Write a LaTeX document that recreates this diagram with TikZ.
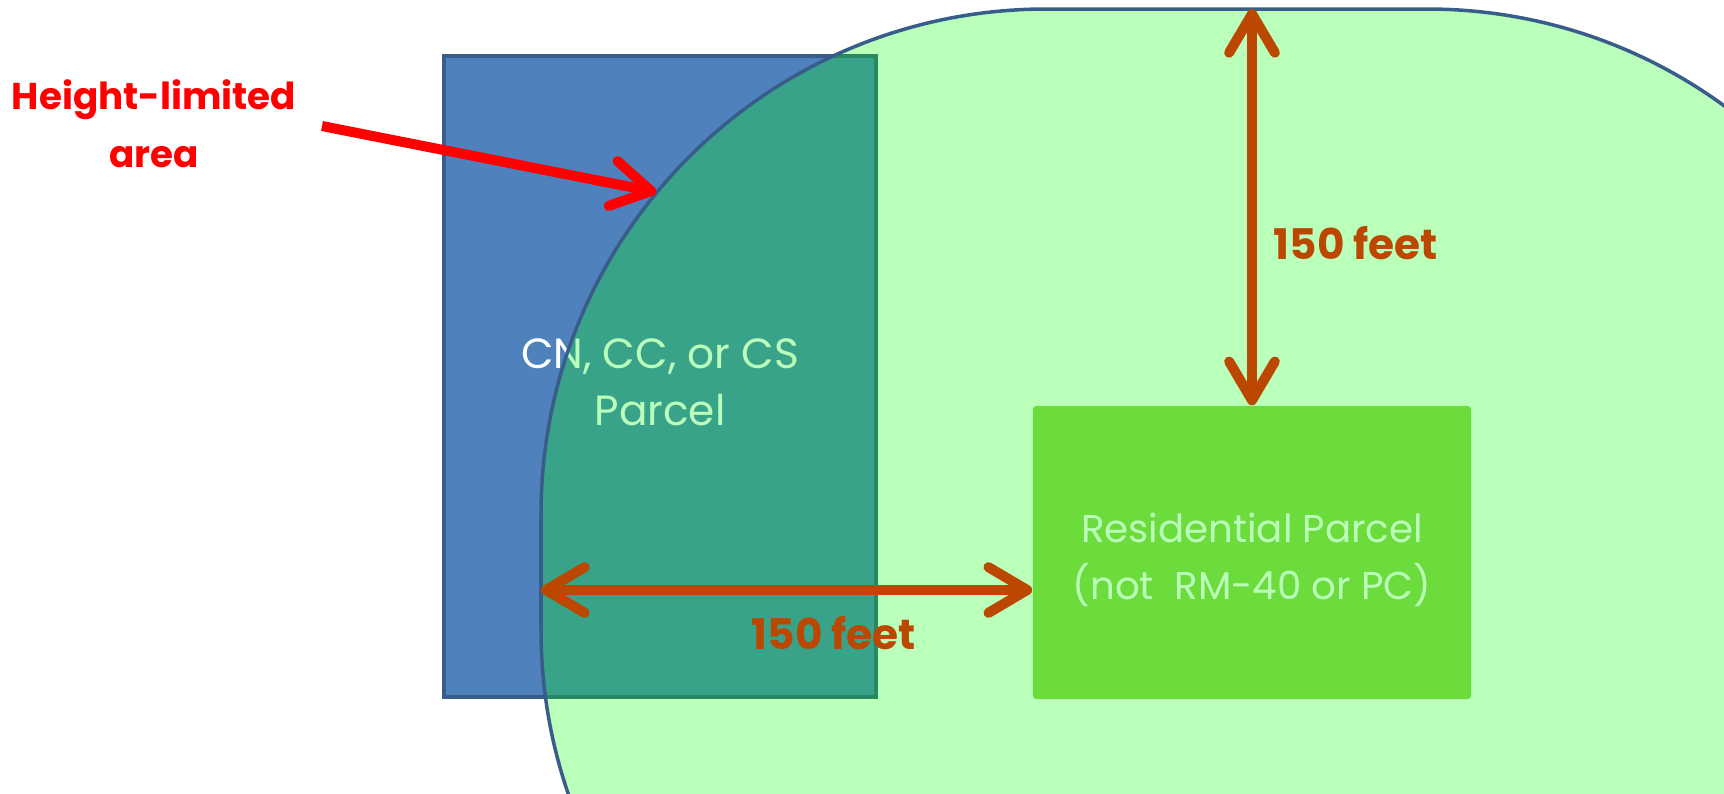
\documentclass[tikz,border=0pt]{standalone}
\usepackage{fontspec}
\setmainfont{Poppins}
\usetikzlibrary{arrows.meta,positioning}
\definecolor{parcelblue}{RGB}{79,129,189}
\definecolor{edgeblue}{RGB}{56,93,138}
\definecolor{resgreen}{RGB}{148,208,82}
\definecolor{rust}{RGB}{188,71,0}
\tikzset{
  parcel/.style={rectangle,inner sep=0pt,align=center,text=white,font=\fontsize{12}{16.2}\selectfont},
  measure/.style={rust,line width=2.85pt,{Straight Barb[length=11pt,width=13pt,round]}-{Straight Barb[length=11pt,width=13pt,round]}},
  dist/.style={text=rust,font=\bfseries\fontsize{12}{14}\selectfont,inner sep=0pt}
}

\begin{document}
\begin{tikzpicture}[x=0.01cm,y=-0.01cm]
    \useasboundingbox (0,0) rectangle (1724,793);
    % commercial parcel and residential parcel
    \node[parcel,draw=edgeblue,line width=1.2pt,fill=parcelblue,minimum width=4.32cm,minimum height=6.41cm] (cn) at (660,376.5) {};
    \node[parcel] (cntext) at ([yshift=-1.6pt]cn.center) {CN, CC, or CS\\Parcel};
    \node[parcel,fill=resgreen,rounded corners=1pt,minimum width=4.38cm,minimum height=2.93cm] (res) at (1252,552.5) {};
    \node[parcel,font=\fontsize{11}{16.2}\selectfont] (restext) at ([yshift=-2pt]res.center) {Residential Parcel\\(not\ \ RM-40 or PC)};
    % 150 feet buffer
    \begin{scope}
      \clip (0,0) rectangle (1724,793);
      \draw[edgeblue,line width=1pt,fill=green,fill opacity=.27,rounded corners=5.05cm] (541,9) rectangle (1932,1135);
    \end{scope}
    \coordinate (top) at (1252,9);
    \coordinate (edge) at (541,590);
    \coordinate (hit) at (656,192);
    \coordinate (tail) at (322,126);
    \draw[measure] (top) -- (res.north);
    \draw[measure] (edge) -- (edge -| res.west);
    \node[dist,anchor=west] (up) at (1273,243) {150 feet};
    \node[dist] (across) at (834,633) {150 feet};
    % label
    \node[text=red,font=\bfseries\fontsize{10.6}{16.6}\selectfont,align=center] (hl) at (154,124) {Height-limited\\area};
    \draw[red,line width=2.85pt,-{Straight Barb[length=11pt,width=13pt,round]}] (tail) -- (hit);
\end{tikzpicture}
\end{document}
